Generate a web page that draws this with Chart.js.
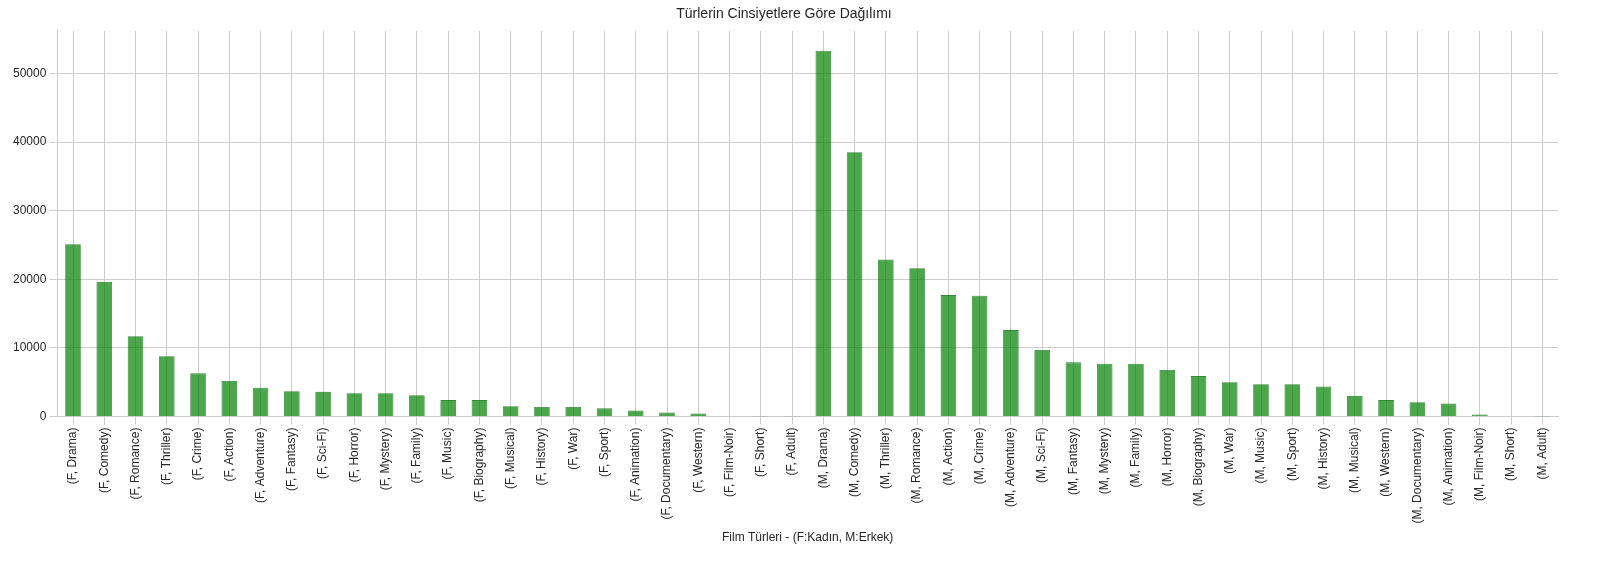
<!DOCTYPE html>
<html>
<head>
<meta charset="utf-8">
<script src="https://cdn.jsdelivr.net/npm/chart.js@4"></script>
<style>
  html, body { margin: 0; padding: 0; background: #fff; }
  #wrap { width: 1618px; height: 563px; }
</style>
</head>
<body>
<div id="wrap"><canvas id="chart"></canvas></div>
<script>
// Genre x gender counts
const genres = ['Drama', 'Comedy', 'Romance', 'Thriller', 'Crime', 'Action', 'Adventure', 'Fantasy',
    'Sci-Fi', 'Horror', 'Mystery', 'Family', 'Music', 'Biography', 'Musical', 'History', 'War', 'Sport',
    'Animation', 'Documentary', 'Western', 'Film-Noir', 'Short', 'Adult'];
const maleGenres = ['Drama', 'Comedy', 'Thriller', 'Romance', 'Action', 'Crime', 'Adventure', 'Sci-Fi',
    'Fantasy', 'Mystery', 'Family', 'Horror', 'Biography', 'War', 'Music', 'Sport', 'History', 'Musical',
    'Western', 'Documentary', 'Animation', 'Film-Noir', 'Short', 'Adult'];

const femaleCounts = [25100, 19600, 11700, 8800, 6300, 5200, 4200, 3700, 3600, 3400, 3400, 3100,
    2400, 2400, 1500, 1400, 1400, 1200, 900, 600, 450, 50, 20, 10];
const maleCounts = [53300, 38500, 22900, 21600, 17700, 17600, 12600, 9700, 7900, 7700, 7700, 6800,
    5900, 5000, 4700, 4700, 4400, 3000, 2400, 2100, 1900, 300, 100, 20];

const labels = genres.map(g => '(F, ' + g + ')').concat(maleGenres.map(g => '(M, ' + g + ')'));
const values = femaleCounts.concat(maleCounts);

const gridColor = '#cccccc';
const textColor = '#262626';
const fontFamily = 'Arial, "Liberation Sans", sans-serif';

new Chart(document.getElementById('chart'), {
    type: 'bar',
    data: {
        labels: labels,
        datasets: [{
            data: values,
            backgroundColor: 'rgba(0, 128, 0, 0.7)',
            borderColor: 'rgba(0, 110, 0, 0.8)',
            borderWidth: 0.8,
            barPercentage: 0.5,
            categoryPercentage: 1.0
        }]
    },
    options: {
        responsive: true,
        maintainAspectRatio: false,
        animation: false,
        layout: { padding: { left: 10, right: 60, top: 4, bottom: 14 } },
        plugins: {
            legend: { display: false },
            title: {
                display: true,
                text: 'Türlerin Cinsiyetlere Göre Dağılımı',
                color: textColor,
                font: { family: fontFamily, size: 14, weight: 'normal' },
                padding: { top: 2, bottom: 8 }
            }
        },
        scales: {
            x: {
                grid: { color: gridColor, offset: false },
                border: { color: gridColor },
                ticks: {
                    color: textColor,
                    font: { family: fontFamily, size: 12 },
                    minRotation: 90,
                    maxRotation: 90,
                    autoSkip: false
                },
                title: {
                    display: true,
                    text: 'Film Türleri - (F:Kadın, M:Erkek)',
                    color: textColor,
                    font: { family: fontFamily, size: 12 }
                }
            },
            y: {
                min: 0,
                max: 56200,
                grid: { color: gridColor },
                border: { color: gridColor },
                afterBuildTicks: axis => {
                    axis.ticks = [0, 10000, 20000, 30000, 40000, 50000].map(v => ({ value: v }));
                },
                ticks: {
                    color: textColor,
                    font: { family: fontFamily, size: 12 },
                    callback: v => String(v)
                }
            }
        }
    }
});
</script>
</body>
</html>
